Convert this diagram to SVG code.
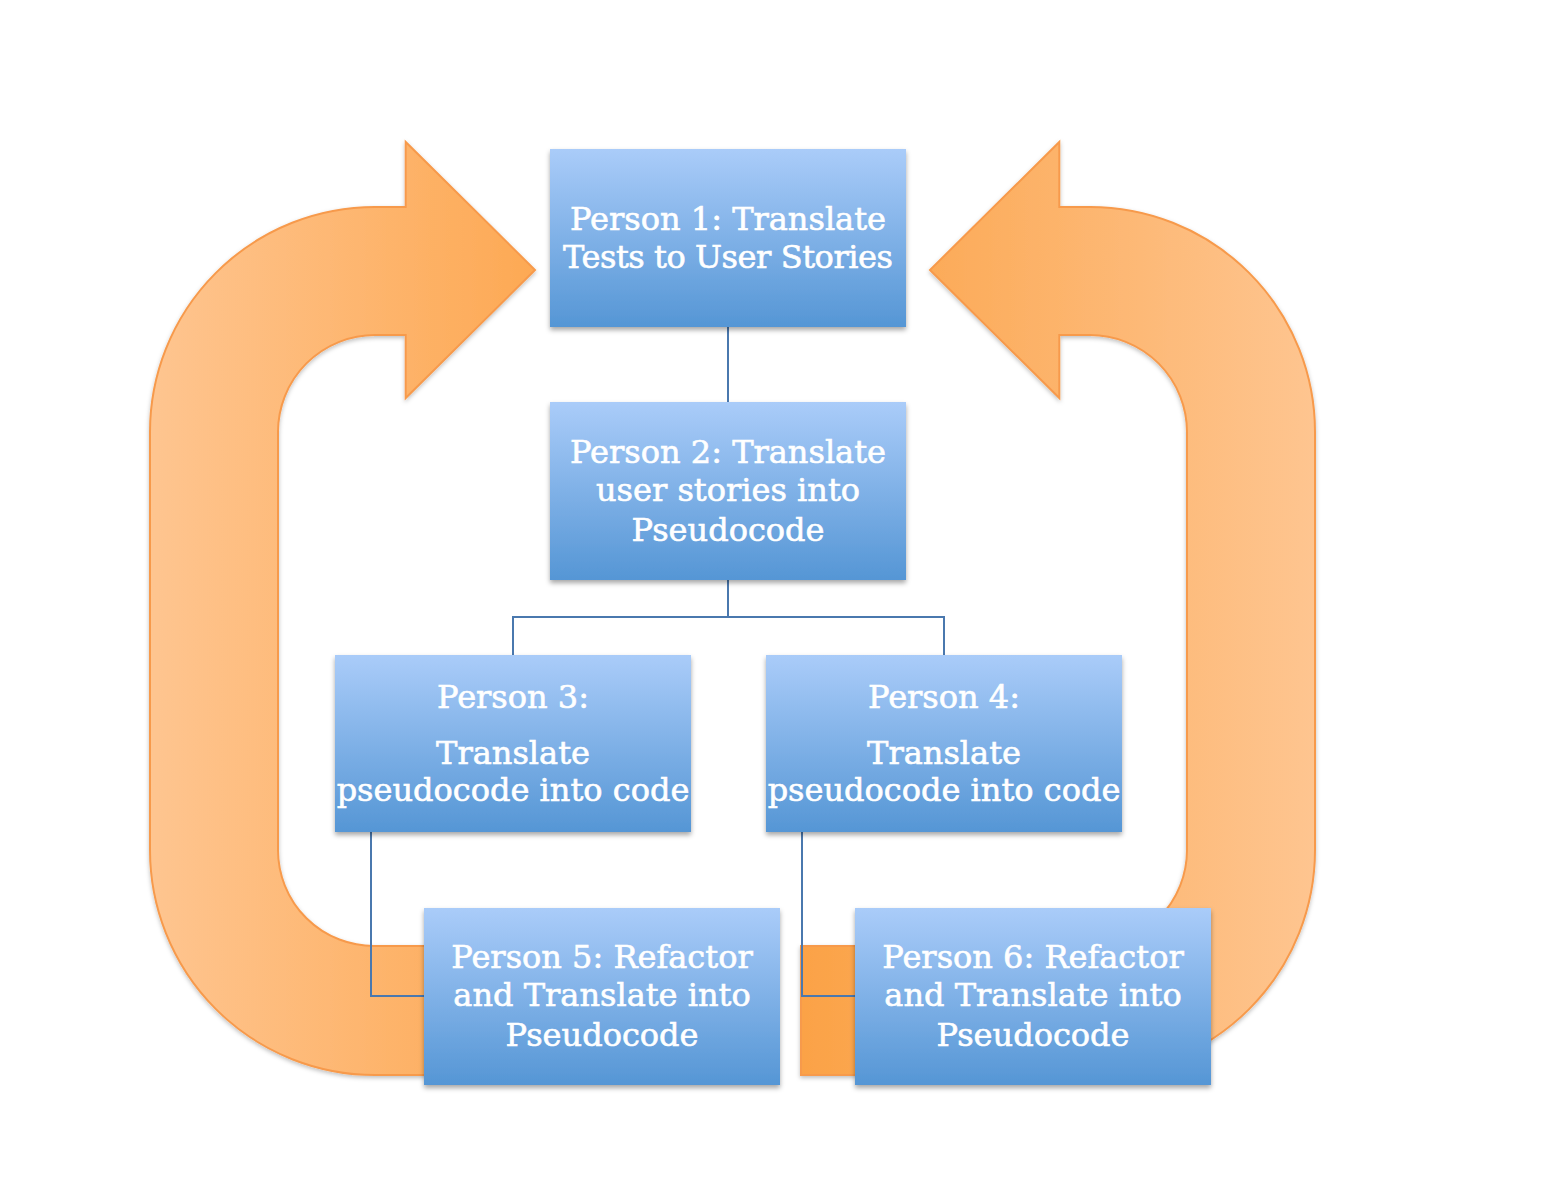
<svg xmlns="http://www.w3.org/2000/svg" width="1562" height="1196" viewBox="0 0 1562 1196">
  <defs>
    <linearGradient id="gLeft" gradientUnits="userSpaceOnUse" x1="150" y1="0" x2="535" y2="0">
      <stop offset="0" stop-color="#FEC590"/>
      <stop offset="1" stop-color="#FDA954"/>
    </linearGradient>
    <linearGradient id="gRight" gradientUnits="userSpaceOnUse" x1="801" y1="0" x2="1315" y2="0">
      <stop offset="0" stop-color="#FBA246"/>
      <stop offset="1" stop-color="#FEC590"/>
    </linearGradient>
    <linearGradient id="gBox" x1="0" y1="0" x2="0" y2="1">
      <stop offset="0" stop-color="#AACCF9"/>
      <stop offset="1" stop-color="#5596D5"/>
    </linearGradient>
    <filter id="shBox" x="-10%" y="-10%" width="120%" height="125%">
      <feDropShadow dx="0" dy="3" stdDeviation="2.5" flood-color="#000" flood-opacity="0.35"/>
    </filter>
    <filter id="shArrow" x="-10%" y="-10%" width="120%" height="120%">
      <feDropShadow dx="0" dy="2" stdDeviation="2" flood-color="#000" flood-opacity="0.25"/>
    </filter>
  </defs>
  <style>
    .arrow { stroke: #F79A4C; stroke-width: 2; stroke-linejoin: miter; filter: url(#shArrow); }
    .box { fill: url(#gBox); filter: url(#shBox); }
    .lbl { font-family: "DejaVu Serif", "Liberation Serif", serif; font-size: 32px; fill: #FFFFFF; stroke: #FFFFFF; stroke-width: 0.6; text-anchor: middle; }
    .conn { fill: none; stroke: #4A78AE; stroke-width: 2; }
  </style>

  <rect width="1562" height="1196" fill="#FFFFFF"/>

  <g id="arrows">
    <path id="arrow-left" class="arrow" fill="url(#gLeft)"
      d="M535,270 L405.7,398 L405.7,335 L375,335 A97,97 0 0 0 278,432 L278,850 A96,96 0 0 0 375,946 L430,946 L430,1075 L375,1075 A225,225 0 0 1 150,850 L150,432 A225,225 0 0 1 375,207 L405.7,207 L405.7,142 Z"/>
    <path id="arrow-right" class="arrow" fill="url(#gRight)"
      d="M930,270 L1059.3,398 L1059.3,335 L1090,335 A97,97 0 0 1 1187,432 L1187,850 A96,96 0 0 1 1090,946 L801,946 L801,1075 L1090,1075 A225,225 0 0 0 1315,850 L1315,432 A225,225 0 0 0 1090,207 L1059.3,207 L1059.3,142 Z"/>
  </g>

  <g id="connectors">
    <path class="conn" d="M728,327 L728,402"/>
    <path class="conn" d="M728,580 L728,617 M513,617 L944,617 M513,616 L513,655 M944,616 L944,655"/>
    <path class="conn" d="M371,832 L371,996 L424,996"/>
    <path class="conn" d="M802,832 L802,996 L855,996"/>
  </g>

  <g id="node1">
    <rect class="box" x="550" y="149" width="356" height="178"/>
    <text class="lbl" x="728" y="230">Person 1: Translate</text>
    <text class="lbl" x="728" y="268" textLength="330" lengthAdjust="spacing">Tests to User Stories</text>
  </g>
  <g id="node2">
    <rect class="box" x="550" y="402" width="356" height="178"/>
    <text class="lbl" x="728" y="463">Person 2: Translate</text>
    <text class="lbl" x="728" y="501">user stories into</text>
    <text class="lbl" x="728" y="541">Pseudocode</text>
  </g>
  <g id="node3">
    <rect class="box" x="335" y="655" width="356" height="177"/>
    <text class="lbl" x="513" y="708">Person 3:</text>
    <text class="lbl" x="513" y="764">Translate</text>
    <text class="lbl" x="513" y="801">pseudocode into code</text>
  </g>
  <g id="node4">
    <rect class="box" x="766" y="655" width="356" height="177"/>
    <text class="lbl" x="944" y="708">Person 4:</text>
    <text class="lbl" x="944" y="764">Translate</text>
    <text class="lbl" x="944" y="801">pseudocode into code</text>
  </g>
  <g id="node5">
    <rect class="box" x="424" y="908" width="356" height="177"/>
    <text class="lbl" x="602" y="968">Person 5: Refactor</text>
    <text class="lbl" x="602" y="1006">and Translate into</text>
    <text class="lbl" x="602" y="1046">Pseudocode</text>
  </g>
  <g id="node6">
    <rect class="box" x="855" y="908" width="356" height="177"/>
    <text class="lbl" x="1033" y="968">Person 6: Refactor</text>
    <text class="lbl" x="1033" y="1006">and Translate into</text>
    <text class="lbl" x="1033" y="1046">Pseudocode</text>
  </g>
</svg>
